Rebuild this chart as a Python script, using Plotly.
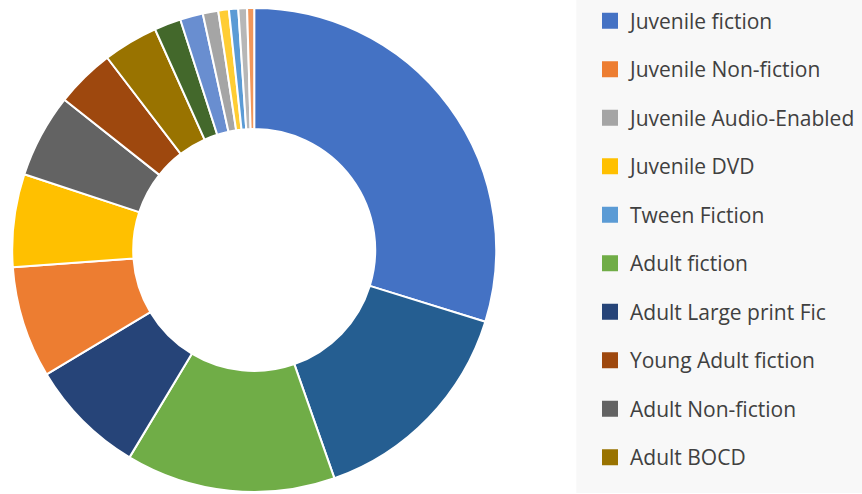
import plotly.graph_objects as go

# Categories in data (legend) order
labels = [
    "Juvenile fiction", "Juvenile Non-fiction", "Juvenile Audio-Enabled", "Juvenile DVD",
    "Tween Fiction", "Adult fiction", "Adult Large print Fic", "Young Adult fiction",
    "Adult Non-fiction", "Adult BOCD",
    "Category 11", "Category 12", "Category 13", "Category 14", "Category 15", "Category 16",
]
# Share of circulation (%)
values = [29.8, 7.45, 1.03, 6.2, 0.62, 14.0, 7.8, 3.95, 5.6, 3.67,
          14.83, 1.78, 1.53, 0.47, 0.58, 0.71]
colors = ["#4472C4", "#ED7D31", "#A5A5A5", "#FFC000", "#5B9BD5", "#70AD47",
          "#264478", "#9E480E", "#636363", "#997300",
          "#255E91", "#43682B", "#698ED0", "#F1975A", "#B7B7B7", "#FFCD33"]
legend_count = 10  # only the first ten categories are listed in the legend

fig = go.Figure()
fig.add_trace(go.Pie(
    labels=labels, values=values, hole=0.5, sort=True,
    direction="clockwise", rotation=0,
    marker=dict(colors=colors, line=dict(color="white", width=2)),
    textinfo="none", showlegend=False,
    domain=dict(x=[0, 509 / 862], y=[0, 1]),
))
for lab, col in zip(labels[:legend_count], colors[:legend_count]):
    fig.add_trace(go.Scatter(
        x=[None], y=[None], mode="markers", name=lab, legendgroup=lab,
        marker=dict(symbol="square", size=16, color=col),
    ))

fig.update_layout(
    width=862, height=494,
    margin=dict(l=0, r=0, t=8, b=2),
    paper_bgcolor="white", plot_bgcolor="white",
    font=dict(family="Open Sans, Noto Sans, sans-serif", color="#404040"),
    xaxis=dict(visible=False), yaxis=dict(visible=False),
    showlegend=True,
    legend=dict(
        x=590.5 / 862, xanchor="left", y=1 + 7.5 / 484, yanchor="top",
        bgcolor="rgba(0,0,0,0)", font=dict(size=21, color="#404040"),
        traceorder="grouped", tracegroupgap=18.2, itemsizing="trace",
        maxheight=494,
    ),
    shapes=[dict(type="rect", xref="paper", yref="paper",
                 x0=577 / 862, x1=1.01, y0=-1 / 484, y1=1 + 8 / 484,
                 fillcolor="#f8f8f8", line=dict(width=0), layer="below")],
)
fig.write_html("out.html", config={"displayModeBar": False},
               post_script="document.body.style.margin='0px';")
